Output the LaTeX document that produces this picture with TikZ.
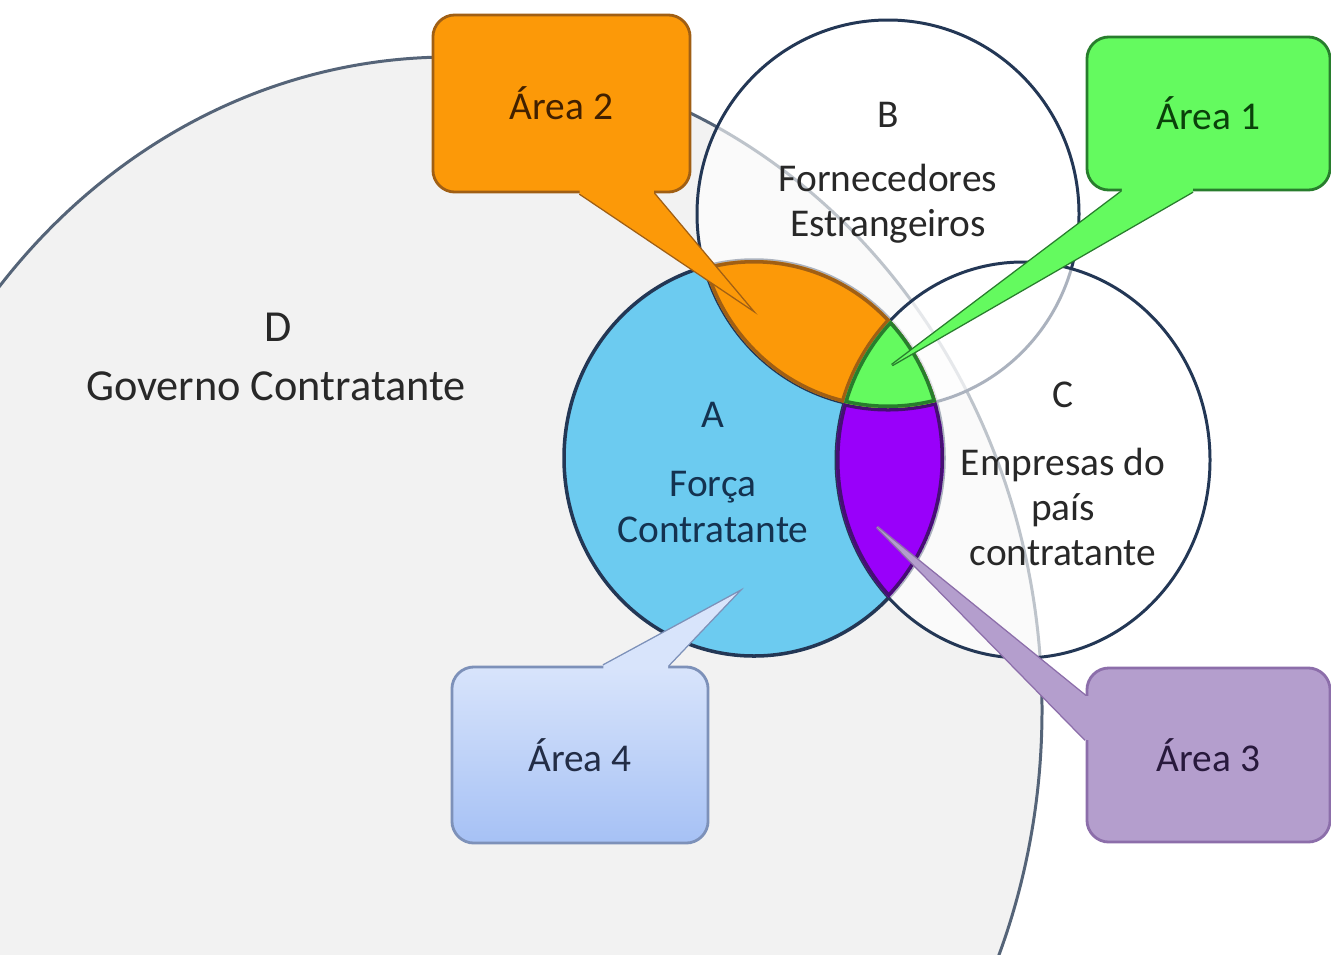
\documentclass[tikz,border=0pt]{standalone}
\usepackage{fontspec}
\setmainfont{Carlito}
\usetikzlibrary{positioning,calc}

\definecolor{fundoD}{RGB}{242,242,242}
\definecolor{linhaD}{RGB}{85,100,120}
\definecolor{contorno}{RGB}{35,55,85}
\definecolor{azulA}{RGB}{108,203,240}
\definecolor{laranja}{RGB}{252,153,8}
\definecolor{laranjaesc}{RGB}{160,95,20}
\definecolor{verde}{RGB}{100,250,95}
\definecolor{verdeesc}{RGB}{40,125,45}
\definecolor{roxo}{RGB}{153,0,250}
\definecolor{roxoesc}{RGB}{70,15,115}
\definecolor{lilas}{RGB}{180,158,205}
\definecolor{lilasesc}{RGB}{140,110,170}
\definecolor{celeste}{RGB}{216,228,251}
\definecolor{celesteb}{RGB}{166,193,245}
\definecolor{celesteesc}{RGB}{125,145,185}
\definecolor{texto}{RGB}{40,40,40}
\definecolor{textoA}{RGB}{20,50,80}
\definecolor{marrom}{RGB}{65,32,0}
\definecolor{verdetxt}{RGB}{10,65,10}
\definecolor{roxotxt}{RGB}{40,25,60}
\definecolor{azultxt}{RGB}{35,45,70}

% os quatro conjuntos
\newcommand{\govD}{(450,710) ellipse [x radius=592,y radius=653]}
\newcommand{\forcaA}{(754,458) ellipse [x radius=190,y radius=198]}
\newcommand{\fornB}{(888,214) ellipse [x radius=191,y radius=194]}
\newcommand{\empC}{(1023,460) ellipse [x radius=187,y radius=198]}

\begin{document}
\begin{tikzpicture}[x=0.01cm,y=-0.01cm,
    rotulo/.style={font=\fontsize{11.2}{12.8}\selectfont,text=texto,align=center,inner sep=0pt},
    balao/.style={rounded corners=0.22cm,line width=0.8pt,inner sep=0pt,
      font=\fontsize{11.2}{13}\selectfont},
    ponta/.style={line width=0.8pt}]
  \useasboundingbox (0,0) rectangle (1331,954);
  \clip (0,0) rectangle (1331,954);
  \fill[white] (0,0) rectangle (1331,954);

  % conjuntos
  \filldraw[fill=fundoD,draw=linhaD,line width=0.85pt] \govD;
  \filldraw[fill=azulA,draw=contorno,line width=1pt] \forcaA;
  \filldraw[fill=white,fill opacity=0.62,draw=contorno,line width=0.85pt] \fornB;
  \filldraw[fill=white,fill opacity=0.62,draw=contorno,line width=0.85pt] \empC;

  % areas 3, 2 e 1
  \begin{scope}
    \clip \forcaA; \clip \empC;
    \fill[roxo] \forcaA;
    \draw[roxoesc,line width=2pt] \forcaA \fornB \empC;
  \end{scope}
  \begin{scope}
    \clip \forcaA; \clip \fornB;
    \fill[laranja] \forcaA;
    \draw[laranjaesc,line width=2pt] \forcaA \fornB \empC;
  \end{scope}
  \begin{scope}
    \clip \forcaA; \clip \fornB; \clip \empC;
    \fill[verde] \forcaA;
    \draw[verdeesc,line width=2pt] \forcaA \fornB \empC;
  \end{scope}

  % textos
  \node[rotulo,font=\fontsize{12.6}{15}\selectfont] (letraD) at (278,327) {D};
  \node[rotulo,font=\fontsize{12.6}{15}\selectfont] (nomeD) at (276,386) {Governo Contratante};
  \node[rotulo] (letraB) at (888,115) {B};
  \node[rotulo] (nomeB) at (888,204) {Fornecedores\\Estrangeiros};
  \node[rotulo,text=textoA] (letraA) at (713,415) {A};
  \node[rotulo,text=textoA] (nomeA) at (713,507) {Força\\Contratante};
  \node[rotulo] (letraC) at (1063,395) {C};
  \node[rotulo] (nomeC) at (1063,507) {Empresas do\\país\\contratante};

  % area 2
  \node[balao,fill=laranja,draw=laranjaesc,minimum width=2.57cm,minimum height=1.77cm,
    text=marrom] (area2) at (561.5,103.5) {Área 2};
  \coordinate (ponta2) at (750,308);
  \coordinate (b2a) at ($(area2.south west)!0.57!(area2.south east)$);
  \coordinate (b2b) at ($(area2.south west)!0.855!(area2.south east)$);
  \draw[ponta,laranjaesc] (b2a) -- (ponta2) -- (b2b);
  \fill[laranja] ($(b2a)+(0,-5)$) -- (b2a) -- (ponta2) -- (b2b) -- ($(b2b)+(0,-5)$) -- cycle;

  % area 1
  \node[balao,fill=verde,draw=verdeesc,minimum width=2.43cm,minimum height=1.53cm,
    text=verdetxt] (area1) at (1208.5,113.5) {Área 1};
  \coordinate (ponta1) at (892,365);
  \coordinate (b1a) at ($(area1.south west)!0.148!(area1.south east)$);
  \coordinate (b1b) at ($(area1.south west)!0.436!(area1.south east)$);
  \draw[ponta,verdeesc] (b1a) -- (ponta1) -- (b1b);
  \fill[verde] ($(b1a)+(0,-5)$) -- (b1a) -- (ponta1) -- (b1b) -- ($(b1b)+(0,-5)$) -- cycle;

  % area 3
  \node[balao,fill=lilas,draw=lilasesc,minimum width=2.43cm,minimum height=1.74cm,
    text=roxotxt] (area3) at (1208.5,755) {Área 3};
  \coordinate (ponta3) at (877,527);
  \coordinate (b3a) at ($(area3.north west)!0.167!(area3.south west)$);
  \coordinate (b3b) at ($(area3.north west)!0.414!(area3.south west)$);
  \draw[ponta,lilasesc] (b3a) -- (ponta3) -- (b3b);
  \fill[lilas] ($(b3a)+(5,0)$) -- (b3a) -- (ponta3) -- (b3b) -- ($(b3b)+(5,0)$) -- cycle;

  % area 4
  \node[balao,top color=celeste,bottom color=celesteb,draw=celesteesc,minimum width=2.56cm,
    minimum height=1.76cm,text=azultxt] (area4) at (580,755) {Área 4};
  \coordinate (ponta4) at (737,593);
  \coordinate (b4a) at ($(area4.north west)!0.59!(area4.north east)$);
  \coordinate (b4b) at ($(area4.north west)!0.84!(area4.north east)$);
  \draw[ponta,celesteesc] (b4a) -- (ponta4) -- (b4b);
  \fill[celeste] ($(b4a)+(0,5)$) -- (b4a) -- (ponta4) -- (b4b) -- ($(b4b)+(0,5)$) -- cycle;
\end{tikzpicture}
\end{document}
